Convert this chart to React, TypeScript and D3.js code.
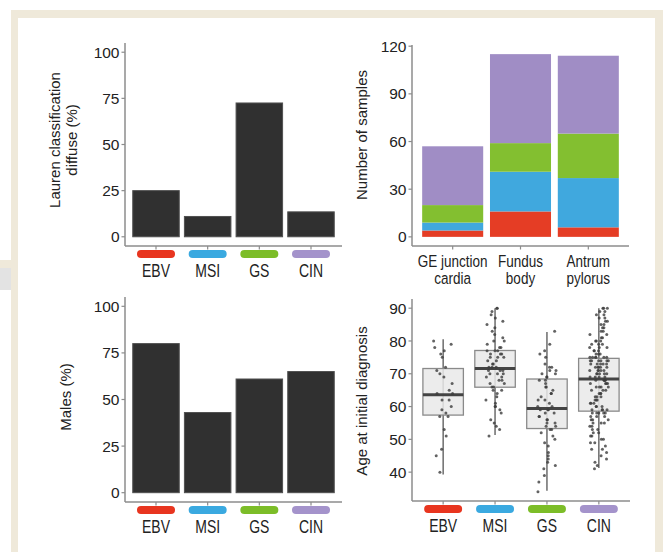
import React, { useEffect, useRef } from "react";
import * as d3 from "d3";

const subtypes = ["EBV", "MSI", "GS", "CIN"];
const pillColors = ["#e8351f", "#3aa9e0", "#7cbd28", "#a493cb"];
const stackColors = ["#e53d25", "#40a8de", "#83bf30", "#a08dc5"];

// panel a: lauren diffuse %, panel c: males %
const laurenDiffuse = [25, 11, 72.5, 13.5];
const malesPct = [80, 43, 61, 65];

// panel b: samples per site, stacked by subtype
const siteLines = [["GE junction", "cardia"], ["Fundus", "body"], ["Antrum", "pylorus"]];
const siteEBV = [4, 16, 6];
const siteMSI = [5, 25, 31];
const siteGS = [11, 18, 28];
const siteCIN = [37, 56, 49];

// panel d: age at initial diagnosis
const ageEBV = [80, 79, 78, 77, 76, 75, 72, 71, 70, 69, 67, 65, 64, 64, 62, 62, 60, 59, 58, 57, 57, 53, 51, 47, 45, 40];
const ageMSI = [51, 53, 54, 55, 56, 58, 59, 60, 60, 61, 62, 63, 64, 65, 65,
  66, 66, 67, 67, 68, 68, 69, 69, 70, 70, 70, 71, 71, 71, 72,
  72, 72, 73, 73, 74, 74, 75, 75, 75, 76, 76, 76, 77, 77, 77,
  78, 78, 79, 80, 80, 81, 82, 83, 84, 85, 86, 88, 89, 90, 90, 87];
const ageGS = [34, 37, 39, 41, 42, 43, 44, 45, 46, 48, 49, 50, 51, 52,
  53, 53, 54, 54, 55, 55, 56, 56, 57, 57, 58, 58, 59, 59, 59,
  60, 60, 61, 62, 62, 63, 64, 64, 65, 66, 66, 67, 68, 68,
  69, 69, 70, 70, 71, 71, 72, 72, 73, 75, 76, 77, 79, 83];
const ageCIN = [41, 42, 43, 44, 45, 46, 47, 47, 48, 49, 49, 50, 50, 51, 51, 52, 52, 53, 53, 54, 54, 55, 55, 55, 56, 56, 56, 57, 57, 57, 58, 58, 58, 58, 58,
  59, 59, 59, 59, 60, 60, 60, 61, 61, 61, 62, 62, 62, 63, 63, 63, 64, 64, 64, 65, 65, 65, 66, 66, 66, 66, 67, 67, 67, 67, 68, 68, 68, 68, 68,
  69, 69, 69, 69, 70, 70, 70, 70, 70, 71, 71, 71, 71, 71, 72, 72, 72, 72, 72, 73, 73, 73, 73, 73, 74, 74, 74, 74, 74, 74, 75, 75, 75, 75, 75, 75,
  76, 76, 76, 77, 77, 77, 78, 78, 78, 79, 79, 79, 80, 80, 80, 81, 81, 82, 82, 83, 83, 84, 84, 85, 85, 86, 86, 87, 87, 88, 88, 89, 89, 90, 90, 90];
const boxLow = [39.3, 51.3, 34.3, 41.3];
const boxQ1 = [57.4, 65.9, 53.3, 58.6];
const boxMed = [63.6, 71.6, 59.4, 68.4];
const boxQ3 = [71.6, 77.1, 68.4, 74.7];
const boxHigh = [80.5, 90, 82.7, 90];

const font = "'Liberation Sans', Arial, Helvetica, sans-serif";
const axisColor = "#8c8c8c";
const textColor = "#222";

type Panel = { left: number; right: number; top: number; bottom: number };

let expanded = (lo: number, hi: number) => {
  const pad = (hi - lo) * 0.05;
  return [lo - pad, hi + pad];
};

let bandFor = (domain: string[], p: Panel) =>
  d3.scaleBand().domain(domain).range([p.left, p.right]).paddingInner(0.1).paddingOuter(0.15);

// fixed scatter for the jitter (a position, not a data value)
let jitter = (j: number, i: number) => {
  const s = Math.sin(j * 12.9898 + i * 78.233) * 43758.5453;
  return s - Math.floor(s) - 0.5;
};

let drawAxes = (g, p: Panel, x, y, ticks: number[]) => {
  g.append("line")
    .attr("x1", p.left).attr("x2", p.left)
    .attr("y1", p.top).attr("y2", p.bottom)
    .attr("stroke", axisColor).attr("stroke-width", 1.5);
  g.append("line")
    .attr("x1", p.left).attr("x2", p.right)
    .attr("y1", p.bottom).attr("y2", p.bottom)
    .attr("stroke", axisColor).attr("stroke-width", 1.5);

  ticks.forEach(t => {
    g.append("line")
      .attr("x1", p.left - 3.5).attr("x2", p.left)
      .attr("y1", y(t)).attr("y2", y(t))
      .attr("stroke", axisColor).attr("stroke-width", 1.2);
    g.append("text")
      .attr("x", p.left - 5.5).attr("y", y(t))
      .attr("dy", "0.36em")
      .attr("text-anchor", "end")
      .attr("font-family", font).attr("font-size", 15.5)
      .attr("fill", textColor)
      .text(t);
  });

  x.domain().forEach(d => {
    const cx = x(d) + x.bandwidth() / 2;
    g.append("line")
      .attr("x1", cx).attr("x2", cx)
      .attr("y1", p.bottom).attr("y2", p.bottom + 3.5)
      .attr("stroke", axisColor).attr("stroke-width", 1.2);
  });
};

let drawSubtypeLabels = (g, p: Panel, x) => {
  subtypes.forEach((s, i) => {
    const cx = x(s) + x.bandwidth() / 2;
    g.append("rect")
      .attr("x", cx - 19).attr("y", p.bottom + 4)
      .attr("width", 38).attr("height", 8)
      .attr("rx", 4)
      .attr("fill", pillColors[i]);
    g.append("text")
      .attr("transform", `translate(${cx},${p.bottom + 31}) scale(0.8,1)`)
      .attr("text-anchor", "middle")
      .attr("font-family", font).attr("font-size", 17.5)
      .attr("fill", textColor)
      .text(s);
  });
};

let yTitle = (g, lines: string[], cx: number, cy: number) => {
  lines.forEach((l, i) => {
    const xx = cx + (i - (lines.length - 1) / 2) * 16.5;
    g.append("text")
      .attr("transform", `translate(${xx},${cy}) rotate(-90)`)
      .attr("dy", "0.36em")
      .attr("text-anchor", "middle")
      .attr("font-family", font).attr("font-size", 15)
      .attr("fill", textColor)
      .text(l);
  });
};

let drawSimpleBars = (g, p: Panel, values: number[]) => {
  const x = bandFor(subtypes, p);
  const y = d3.scaleLinear().domain(expanded(0, 100)).range([p.bottom, p.top]);
  g.selectAll(".bar").data(values).enter().append("rect")
    .attr("x", (d, i) => x(subtypes[i]))
    .attr("width", x.bandwidth())
    .attr("y", d => y(d))
    .attr("height", d => y(0) - y(d))
    .attr("fill", "#303030")
    .attr("stroke", "#505050").attr("stroke-width", 1);
  drawAxes(g, p, x, y, [0, 25, 50, 75, 100]);
  drawSubtypeLabels(g, p, x);
};

let drawStacked = (g, p: Panel) => {
  const keys = subtypes;
  const rows = siteLines.map((s, i) => ({
    site: s.join(" "),
    EBV: siteEBV[i], MSI: siteMSI[i], GS: siteGS[i], CIN: siteCIN[i]
  }));
  const stacked = d3.stack().keys(keys)(rows);
  const maxTotal = d3.max(rows, r => r.EBV + r.MSI + r.GS + r.CIN);
  const x = bandFor(rows.map(r => r.site), p);
  const y = d3.scaleLinear().domain(expanded(0, maxTotal)).range([p.bottom, p.top]);

  stacked.forEach((layer, k) => {
    g.append("g").selectAll("rect").data(layer).enter().append("rect")
      .attr("x", d => x(d.data.site))
      .attr("width", x.bandwidth())
      .attr("y", d => y(d[1]))
      .attr("height", d => y(d[0]) - y(d[1]))
      .attr("fill", stackColors[k]);
  });

  drawAxes(g, p, x, y, [0, 30, 60, 90, 120]);

  rows.forEach((r, i) => {
    const cx = x(r.site) + x.bandwidth() / 2;
    siteLines[i].forEach((l, j) => {
      g.append("text")
        .attr("transform", `translate(${cx},${p.bottom + 21 + j * 17}) scale(0.82,1)`)
        .attr("text-anchor", "middle")
        .attr("font-family", font).attr("font-size", 16.5)
        .attr("fill", textColor)
        .text(l);
    });
  });
};

let drawBoxes = (g, p: Panel) => {
  const groups = [ageEBV, ageMSI, ageGS, ageCIN];
  const lo = Math.min(d3.min(boxLow), d3.min(groups.flat()));
  const hi = Math.max(d3.max(boxHigh), d3.max(groups.flat()));
  const x = bandFor(subtypes, p);
  const y = d3.scaleLinear().domain(expanded(lo, hi)).range([p.bottom, p.top]);
  const boxW = x.step() * 0.78;

  subtypes.forEach((s, i) => {
    const cx = x(s) + x.bandwidth() / 2;
    g.append("line")
      .attr("x1", cx).attr("x2", cx)
      .attr("y1", y(boxLow[i])).attr("y2", y(boxHigh[i]))
      .attr("stroke", "#555").attr("stroke-width", 1.3);
    g.append("rect")
      .attr("x", cx - boxW / 2).attr("width", boxW)
      .attr("y", y(boxQ3[i])).attr("height", y(boxQ1[i]) - y(boxQ3[i]))
      .attr("fill", "#e9e9e9").attr("fill-opacity", 0.85)
      .attr("stroke", "#8a8a8a").attr("stroke-width", 1.3);
    g.append("line")
      .attr("x1", cx - boxW / 2).attr("x2", cx + boxW / 2)
      .attr("y1", y(boxMed[i])).attr("y2", y(boxMed[i]))
      .attr("stroke", "#444").attr("stroke-width", 3);

    g.append("g").selectAll("circle").data(groups[i]).enter().append("circle")
      .attr("cx", (d, j) => cx + jitter(j, i) * 19)
      .attr("cy", d => y(d))
      .attr("r", 1.5)
      .attr("fill", "#3c3c3c")
      .attr("fill-opacity", 0.8);
  });

  drawAxes(g, p, x, y, [40, 50, 60, 70, 80, 90]);
  drawSubtypeLabels(g, p, x);
};

let drawAll = (node: SVGSVGElement) => {
  const svg = d3.select(node);
  svg.selectAll("*").remove();

  // page frame
  svg.append("rect").attr("width", 670).attr("height", 552).attr("fill", "#fff");
  svg.append("rect").attr("x", 11).attr("y", 10).attr("width", 652).attr("height", 542).attr("fill", "#efe9da");
  svg.append("rect").attr("x", 18).attr("y", 18).attr("width", 637).attr("height", 534).attr("fill", "#fff");
  svg.append("rect").attr("x", 0).attr("y", 260).attr("width", 11).attr("height", 8).attr("fill", "#efe9da");
  svg.append("rect").attr("x", 0).attr("y", 268).attr("width", 11).attr("height", 22).attr("fill", "#e3e3e3");

  const a: Panel = { left: 125, right: 342, top: 43, bottom: 246 };
  const b: Panel = { left: 412, right: 629, top: 45, bottom: 246 };
  const c: Panel = { left: 125, right: 342, top: 297, bottom: 502 };
  const d: Panel = { left: 412, right: 630, top: 299, bottom: 501 };

  drawSimpleBars(svg.append("g"), a, laurenDiffuse);
  yTitle(svg, ["Lauren classification", "diffuse (%)"], 63, 140);

  drawStacked(svg.append("g"), b);
  yTitle(svg, ["Number of samples"], 362, 135);

  drawSimpleBars(svg.append("g"), c, malesPct);
  yTitle(svg, ["Males (%)"], 66, 397);

  drawBoxes(svg.append("g"), d);
  yTitle(svg, ["Age at initial diagnosis"], 362, 401);
};

export default function App() {
  const ref = useRef<SVGSVGElement>(null);
  useEffect(() => {
    if (ref.current) drawAll(ref.current);
  }, []);
  return (
    <svg
      ref={ref}
      width={670}
      height={552}
      style={{ position: "absolute", left: 0, top: 0, display: "block" }}
    />
  );
}
